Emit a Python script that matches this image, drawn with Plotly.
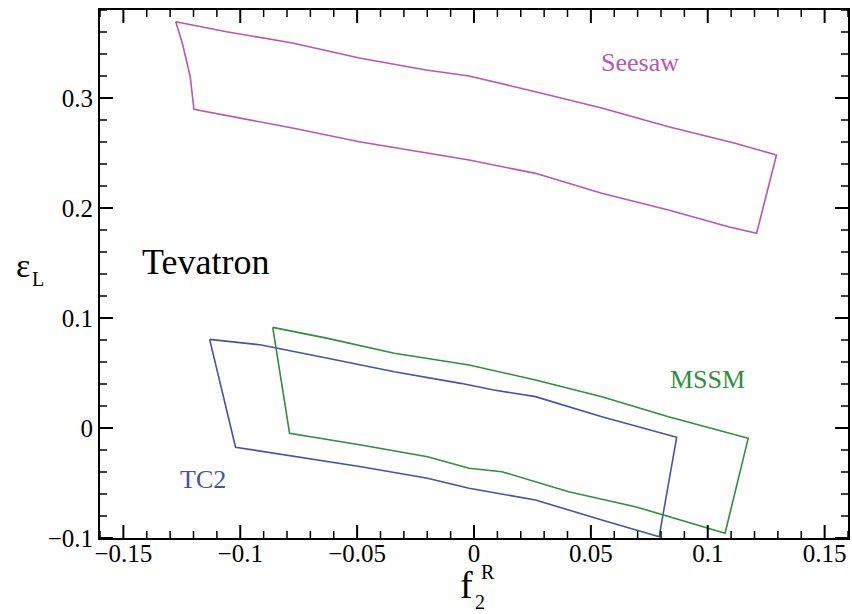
import plotly.graph_objects as go

# Allowed regions in the (f2R, epsilon_L) plane for three models, Tevatron
seesaw_f2r = [-0.1276, -0.1059, -0.0777, -0.0491, -0.0205, -0.0021, 0.0263, 0.0546,
              0.0832, 0.1117, 0.1294, 0.1209, 0.1088, 0.0832, 0.0546, 0.0263,
              -0.0021, -0.0206, -0.0491, -0.0777, -0.1059, -0.1198, -0.1214,
              -0.1248, -0.1276]
seesaw_epsl = [0.3694, 0.3603, 0.3500, 0.3364, 0.3255, 0.3200, 0.3057, 0.2909,
               0.2739, 0.2588, 0.2482, 0.1770, 0.1830, 0.1982, 0.2134, 0.2315,
               0.2436, 0.2500, 0.2603, 0.2727, 0.2845, 0.2897, 0.3194,
               0.3500, 0.3694]

tc2_f2r = [-0.1131, -0.0910, -0.0626, -0.0341, -0.0057, 0.0085, 0.0263, 0.0547,
           0.0867, 0.0792, 0.0547, 0.0263, -0.0021, -0.0199, -0.0483, -0.0768,
           -0.1020, -0.1131]
tc2_epsl = [0.0806, 0.0755, 0.0634, 0.0512, 0.0406, 0.0345, 0.0285, 0.0103,
            -0.0085, -0.0988, -0.0836, -0.0655, -0.0548, -0.0457, -0.0352, -0.0261,
            -0.0175, 0.0806]

mssm_f2r = [-0.0861, -0.0626, -0.0341, -0.0021, 0.0263, 0.0547, 0.0832, 0.1173,
            0.1074, 0.0690, 0.0405, 0.0119, -0.0021, -0.0199, -0.0483, -0.0789,
            -0.0861]
mssm_epsl = [0.0915, 0.0815, 0.0679, 0.0573, 0.0436, 0.0285, 0.0103, -0.0094,
             -0.0957, -0.0715, -0.0579, -0.0397, -0.0366, -0.0261, -0.0155, -0.0048,
             0.0915]

X_RANGE = [-0.16, 0.16]
Y_RANGE = [-0.1, 0.38]
X_MAJOR, X_MINOR = 0.05, 0.01
Y_MAJOR, Y_MINOR = 0.1, 0.02

WIDTH, HEIGHT = 852, 614
MARGIN = dict(l=100, r=2, t=10, b=76)

SERIF = "Liberation Serif"
C_SEESAW = "#b856b4"
C_TC2 = "#4652a8"
C_MSSM = "#2f8e3f"

fig = go.Figure()
for xs, ys, col, name in [
    (seesaw_f2r, seesaw_epsl, C_SEESAW, "Seesaw"),
    (tc2_f2r, tc2_epsl, C_TC2, "TC2"),
    (mssm_f2r, mssm_epsl, C_MSSM, "MSSM"),
]:
    fig.add_trace(go.Scatter(x=xs, y=ys, mode="lines", name=name,
                             line=dict(color=col, width=1.6), showlegend=False))


# ---- inward tick marks on all four sides, drawn as line segments ----
plot_w = WIDTH - MARGIN["l"] - MARGIN["r"]
plot_h = HEIGHT - MARGIN["t"] - MARGIN["b"]
x_per_px = (X_RANGE[1] - X_RANGE[0]) / plot_w
y_per_px = (Y_RANGE[1] - Y_RANGE[0]) / plot_h


def tick_values(lo, hi, step):
    return [round(k * step, 6) for k in range(int(round(lo / step)), int(round(hi / step)) + 1)]


def on_step(v, step):
    return abs(v / step - round(v / step)) < 1e-6


def tick_segments(major, length_px):
    xs, ys = [], []
    for v in tick_values(X_RANGE[0], X_RANGE[1], X_MINOR):
        if on_step(v, X_MAJOR) != major:
            continue
        d = length_px * y_per_px
        xs += [v, v, None, v, v, None]
        ys += [Y_RANGE[0], Y_RANGE[0] + d, None, Y_RANGE[1], Y_RANGE[1] - d, None]
    for v in tick_values(Y_RANGE[0], Y_RANGE[1], Y_MINOR):
        if on_step(v, Y_MAJOR) != major:
            continue
        d = length_px * x_per_px
        xs += [X_RANGE[0], X_RANGE[0] + d, None, X_RANGE[1], X_RANGE[1] - d, None]
        ys += [v, v, None, v, v, None]
    return xs, ys


for major, length, width in ((True, 13, 2), (False, 7, 1.5)):
    tx, ty = tick_segments(major, length)
    fig.add_trace(go.Scatter(x=tx, y=ty, mode="lines", showlegend=False,
                             hoverinfo="skip", line=dict(color="black", width=width)))

labels = [
    ("Seesaw", 0.0708, 0.3327, C_SEESAW, 26),
    ("MSSM", 0.0998, 0.0445, C_MSSM, 26),
    ("TC2", -0.1160, -0.0464, C_TC2, 26),
    ("Tevatron", -0.1148, 0.1510, "black", 36),
]
for text, x, y, col, size in labels:
    fig.add_annotation(x=x, y=y, xref="x", yref="y", text=text, showarrow=False,
                       font=dict(family=SERIF, size=size, color=col),
                       xanchor="center", yanchor="middle")

# Axis titles built from pieces so sub/superscripts stack
title_parts = [
    ("f", 467, 585, 38),
    ("R", 489, 572, 20),
    ("2", 481, 602, 20),
    ("\u03b5", 23, 265, 34),
    ("L", 38, 279, 20),
]
for text, px, py, size in title_parts:
    fig.add_annotation(x=(px - MARGIN["l"]) / plot_w, y=(HEIGHT - MARGIN["b"] - py) / plot_h,
                       xref="paper", yref="paper",
                       text=text, showarrow=False, xanchor="center", yanchor="middle",
                       font=dict(family=SERIF, size=size, color="black"))

frame = dict(showgrid=False, zeroline=False, showline=True, linecolor="black",
             linewidth=2, mirror=True, ticks="")

fig.update_layout(
    width=WIDTH, height=HEIGHT,
    margin=MARGIN,
    plot_bgcolor="white", paper_bgcolor="white",
    font=dict(family=SERIF),
    xaxis=dict(range=X_RANGE, tickmode="linear", tick0=0, dtick=X_MAJOR,
               tickformat=".2~f", ticklabelstandoff=-8,
               tickfont=dict(family=SERIF, size=25, color="black"), **frame),
    yaxis=dict(range=Y_RANGE, tickmode="linear", tick0=0, dtick=Y_MAJOR,
               tickformat=".1~f",
               tickfont=dict(family=SERIF, size=25, color="black"), **frame),
)

fig.write_html("out.html")
